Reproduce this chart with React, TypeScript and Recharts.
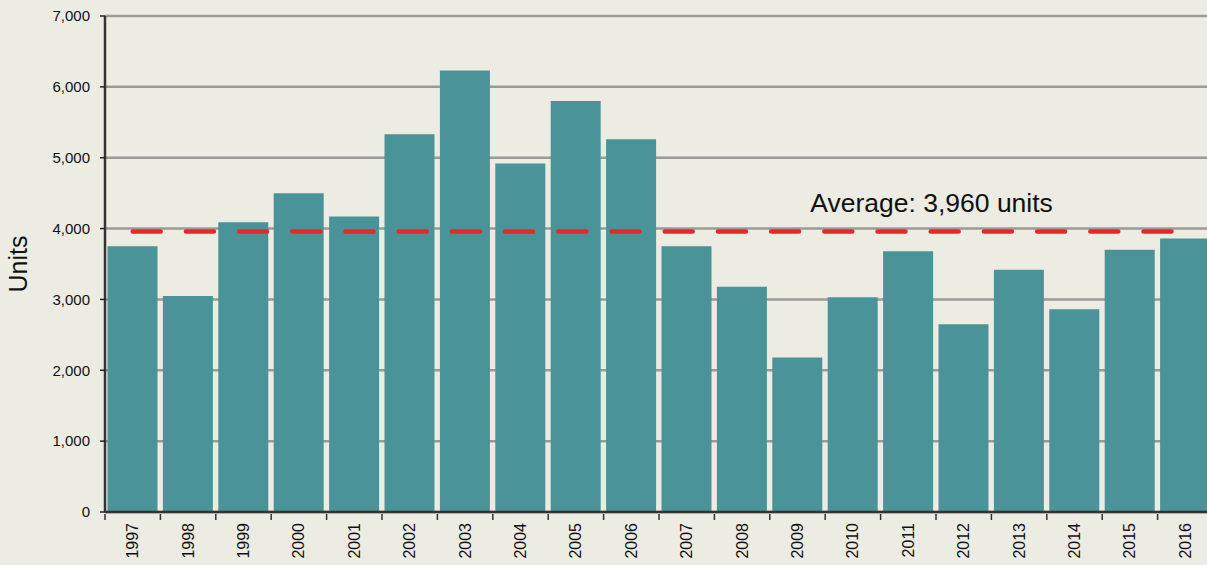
import React from "react";
import { ComposedChart, Bar, Line, XAxis, YAxis, CartesianGrid, ReferenceLine } from "recharts";

const years = ["1997","1998","1999","2000","2001","2002","2003","2004","2005","2006","2007","2008","2009","2010","2011","2012","2013","2014","2015","2016"];
const units = [3750,3050,4090,4500,4170,5330,6230,4920,5800,5260,3750,3180,2180,3030,3680,2650,3420,2860,3700,3860];
const average = 3960;
const averageLabel = "Average: 3,960 units";
const yTicks = [0,1000,2000,3000,4000,5000,6000,7000];

const data = years.map((y, i) => ({ year: y, units: units[i], avg: average }));

const W = 1213;
const H = 565;
const YW = 105;
const BAND = (W - YW) / years.length;
const FONT = "'Liberation Sans', Arial, Helvetica, sans-serif";

const XTick = (props: any) => {
  const { x, y, payload } = props;
  const left = x - BAND / 2;
  return (
    <g>
      <line x1={left} y1={y - 6} x2={left} y2={y} stroke="#333" strokeWidth={1.5} />
      <text
        x={x}
        y={y + 3}
        transform={`rotate(-90, ${x}, ${y + 3})`}
        textAnchor="end"
        dy="0.35em"
        fontSize={16}
        fontFamily={FONT}
        fill="#111"
      >
        {payload.value}
      </text>
    </g>
  );
};

const AvgLabel = (props: any) => {
  const { viewBox } = props;
  const cx = viewBox.x + viewBox.width * 0.746;
  return (
    <text x={cx} y={viewBox.y - 19} textAnchor="middle" fontSize={26.5} fontFamily={FONT} fill="#111">
      {averageLabel}
    </text>
  );
};

export default function App() {
  return (
    <div style={{ position: "absolute", left: 0, top: 0, width: 1207, height: 565, overflow: "hidden", background: "#ECECE3" }}>
      <ComposedChart
        width={W}
        height={H}
        data={data}
        margin={{ top: 16, right: 0, bottom: 0, left: 0 }}
        barCategoryGap="4.5%"
      >
        <CartesianGrid vertical={false} stroke="#9a9a9a" strokeWidth={2.5} />
        <XAxis
          dataKey="year"
          height={53}
          interval={0}
          tickLine={false}
          axisLine={{ stroke: "#333", strokeWidth: 2.5 }}
          tick={<XTick />}
        />
        <YAxis
          width={YW}
          domain={[0, 7000]}
          ticks={yTicks}
          interval={0}
          tickSize={5}
          tickMargin={10}
          tickFormatter={(v: number) => v.toLocaleString("en-US")}
          tickLine={{ stroke: "#222", strokeWidth: 1.5 }}
          axisLine={{ stroke: "#333", strokeWidth: 2.5 }}
          tick={{ fontSize: 15, fontFamily: FONT, fill: "#111" }}
          label={{
            value: "Units",
            angle: -90,
            position: "insideLeft",
            dx: 13,
            style: { fontSize: 25, fontFamily: FONT, fill: "#111", textAnchor: "middle" },
          }}
        />
        <Bar dataKey="units" fill="#4A9399" isAnimationActive={false} />
        <ReferenceLine y={average} stroke="none" label={<AvgLabel />} />
        <Line
          dataKey="avg"
          stroke="#E8262B"
          strokeWidth={4.5}
          strokeDasharray="28 25.2"
          strokeLinecap="round"
          dot={false}
          activeDot={false}
          isAnimationActive={false}
        />
      </ComposedChart>
    </div>
  );
}
